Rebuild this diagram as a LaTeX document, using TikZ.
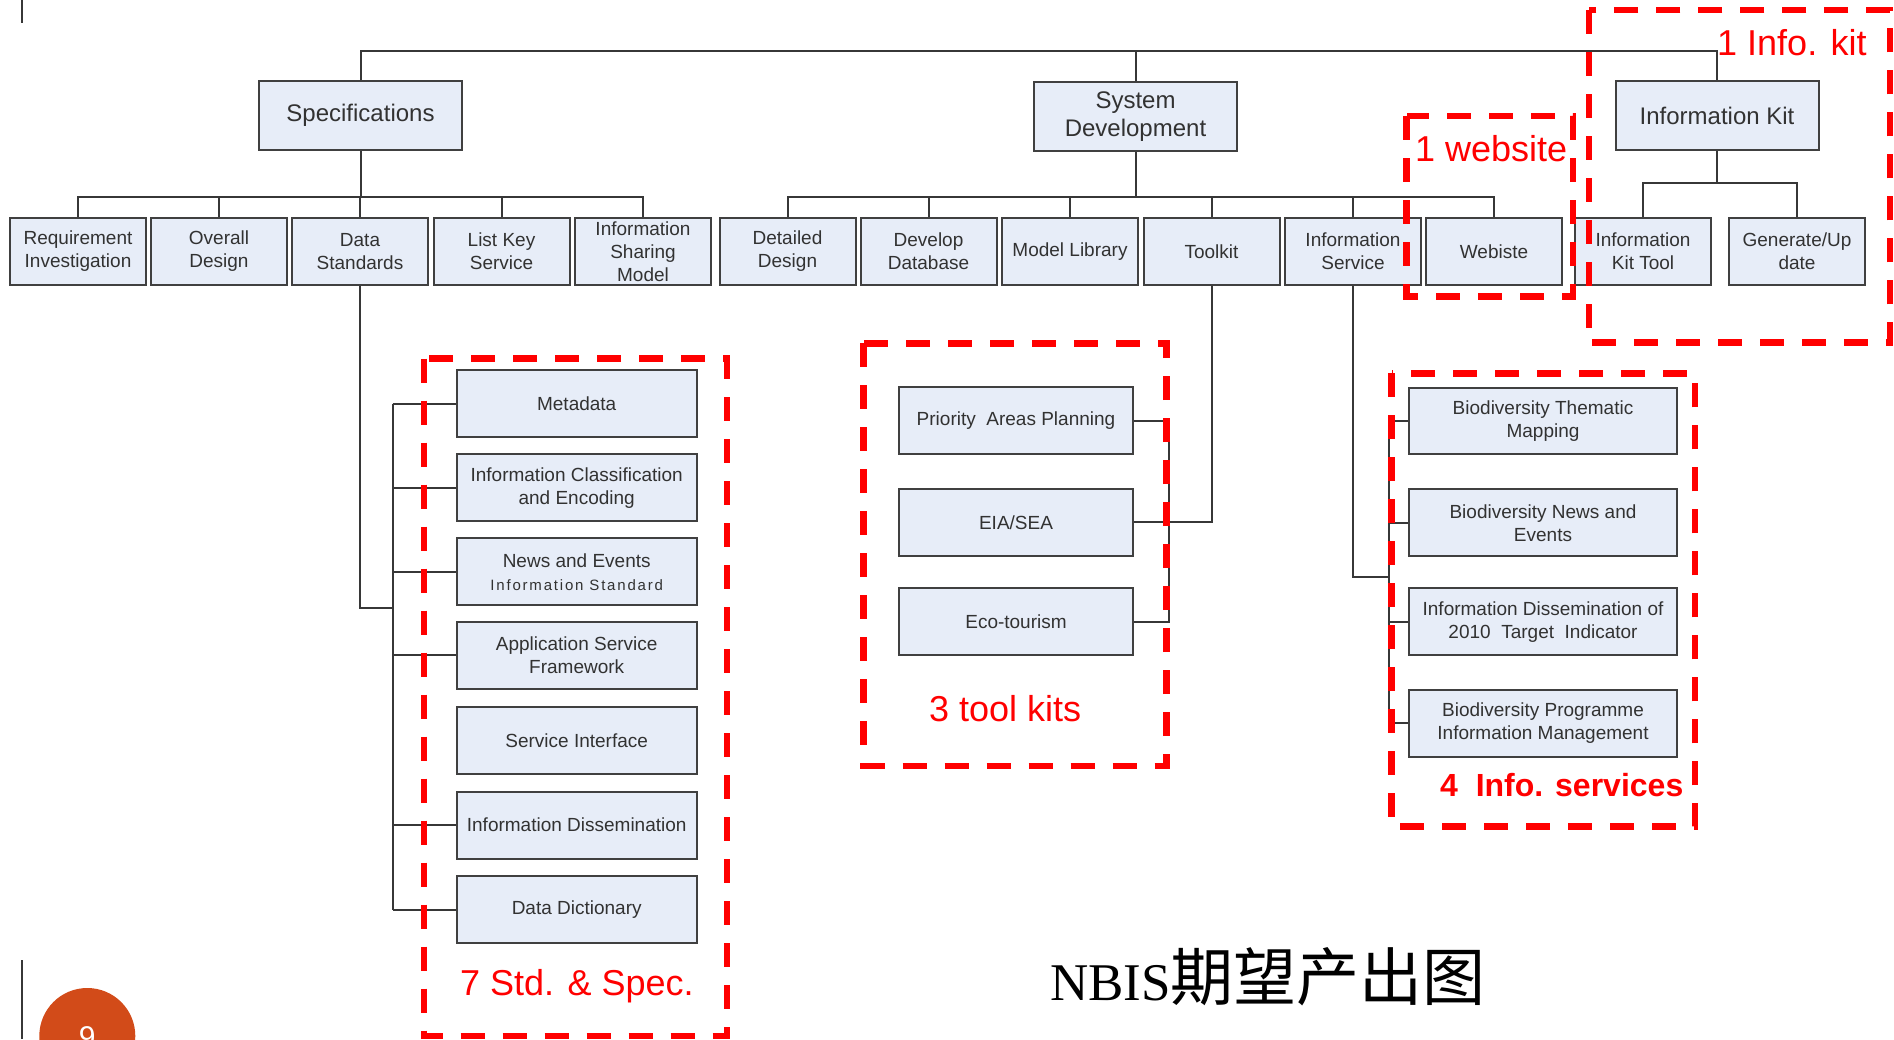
\documentclass[tikz,border=0pt]{standalone}
\usepackage{fontspec}
\setmainfont{Liberation Sans}
\newfontfamily\seriffont{Liberation Serif}
\newfontfamily\cjkfont{Noto Sans CJK SC}
\definecolor{boxfill}{RGB}{231,237,248}
\definecolor{boxline}{RGB}{64,64,64}
\definecolor{txtgray}{RGB}{50,50,50}
\definecolor{conncol}{RGB}{55,55,55}
\definecolor{pagered}{RGB}{210,75,25}
\begin{document}
\begin{tikzpicture}[x=1pt,y=-1pt,
 box/.style={draw=boxline, fill=boxfill, line width=2pt, inner sep=0pt, align=center, text=txtgray, font=\fontsize{19}{23}\selectfont},
 topbox/.style={box, minimum width=203pt, minimum height=69pt, font=\fontsize{24}{28}\selectfont},
 midbox/.style={box, minimum width=136pt, minimum height=67.5pt},
 stdbox/.style={box, minimum width=240pt, minimum height=67pt},
 tkbox/.style={box, minimum width=234pt, minimum height=67pt},
 isbox/.style={box, minimum width=268pt, minimum height=66.5pt},
 conn/.style={draw=conncol, line width=2pt},
 reddash/.style={draw=red, line width=6.5pt, dash pattern=on 24pt off 18pt},
 redlabel/.style={text=red, inner sep=0pt, anchor=base west, font=\fontsize{36}{40}\selectfont},
]
\useasboundingbox (0,0) rectangle (1894,1039);

% level 1
\node[topbox] (spec) at (360.5,115.5) {Specifications};
\node[topbox] (sd) at (1135.5,116.5) {System\\Development};
\node[topbox] (ik) at (1717,115.5) {Information Kit};

% level 2
\node[midbox] (req) at (78,251.3) {Requirement\\Investigation};
\node[midbox] (od) at (219,251.3) {Overall\\Design};
\node[midbox] (ds) at (360,251.3) {Data\\Standards};
\node[midbox] (lks) at (501.5,251.3) {List Key\\Service};
\node[midbox] (ism) at (643,251.3) {Information\\Sharing\\Model};
\node[midbox] (ddsg) at (787.5,251.3) {Detailed\\Design};
\node[midbox] (ddb) at (928.5,251.3) {Develop\\Database};
\node[midbox] (ml) at (1070,251.3) {Model Library};
\node[midbox] (tk) at (1211.5,251.3) {Toolkit};
\node[midbox] (is) at (1353,251.3) {Information\\Service};
\node[midbox] (web) at (1494,251.3) {Webiste};
\node[midbox] (ikt) at (1643,251.3) {Information\\Kit Tool};
\node[midbox] (gu) at (1797,251.3) {Generate/Up\\date};

% standards column
\node[stdbox] (meta) at (576.7,403.8) {Metadata};
\node[stdbox] (icl) at (576.7,487.8) {Information Classification\\and Encoding};
\node[stdbox] (news) at (576.7,571.9) {News and Events\\{\fontsize{15}{17}\selectfont\addfontfeature{LetterSpace=12}Information Standard}};
\node[stdbox] (asf) at (576.7,655) {Application Service\\Framework};
\node[stdbox] (si) at (576.7,740.4) {Service Interface};
\node[stdbox] (idis) at (576.7,825) {Information Dissemination};
\node[stdbox] (dict) at (576.7,909.8) {Data Dictionary};

% toolkit column
\node[tkbox] (pap) at (1016,420.5) {Priority\ \ Areas Planning};
\node[tkbox] (eia) at (1016,522.3) {EIA/SEA};
\node[tkbox] (eco) at (1016,621.5) {Eco-tourism};

% info service column
\node[isbox] (bt) at (1543,421) {Biodiversity Thematic\\Mapping};
\node[isbox] (bn) at (1543,522.7) {Biodiversity News and\\Events};
\node[isbox] (bd) at (1543,621.7) {Information Dissemination of\\2010\ \ Target\ \ Indicator};
\node[isbox] (bp) at (1543,723.3) {Biodiversity Programme\\Information Management};

% connectors
\coordinate (topbus) at (0,51);
\coordinate (bus2) at (0,197);
\coordinate (bus3) at (0,183.3);
\draw[conn] (spec.north) |- (topbus -| ik.north) -- (ik.north);
\draw[conn] (sd.north) -- (sd.north |- topbus);
\foreach \c in {req,od,ds,lks,ism}
  \draw[conn] (spec.south) -- (spec.south |- bus2) -| (\c.north);
\foreach \c in {ddsg,ddb,ml,tk,is,web}
  \draw[conn] (sd.south) -- (sd.south |- bus2) -| (\c.north);
\foreach \c in {ikt,gu}
  \draw[conn] (ik.south) -- (ik.south |- bus3) -| (\c.north);

\coordinate (combA) at (392.7,607.5);
\draw[conn] (ds.south) |- (combA);
\draw[conn] (combA |- meta.west) -- (combA |- dict.west);
\foreach \c in {meta,icl,news,asf,idis,dict}
  \draw[conn] (combA |- \c.west) -- (\c.west);

\coordinate (combB) at (1169.3,0);
\draw[conn] (tk.south) |- (eia.east);
\draw[conn] (pap.east) -| (combB |- eco.east) -- (eco.east);

\coordinate (combC) at (1389.3,576.7);
\draw[conn] (is.south) |- (combC);
\draw[conn] (bt.west) -| (combC |- bp.west) -- (bp.west);
\draw[conn] (combC |- bn.west) -- (bn.west);
\draw[conn] (combC |- bd.west) -- (bd.west);

% red dashed groups
\draw[reddash] (424,358.5) rectangle (727,1036);
\draw[reddash] (863.3,343.3) rectangle (1166.7,766);
\draw[reddash] (1391.7,373.3) rectangle (1695,826.7);
\draw[reddash] (1406.7,116) rectangle (1573,296.7);
\draw[reddash] (1589,10) rectangle (1890,342.7);

\node[redlabel] (lik) at (1717,55) {1 Info. kit};
\node[redlabel] (lweb) at (1415,161.7) {1 website};
\node[redlabel] (lstd) at (460,995) {7 Std. \& Spec.};
\node[redlabel] (ltk) at (929,721.7) {3 tool kits};
\node[redlabel, font=\fontsize{32}{36}\selectfont\bfseries] (lis) at (1440,796) {4\ \ Info. services};

% title
\node[anchor=base west, inner sep=0pt] (title) at (1050,1000) {\seriffont\fontsize{53}{60}\selectfont NBIS\cjkfont\fontsize{63}{68}\selectfont 期望产出图};

% slide decorations
\draw[conncol, line width=1.5pt] (22,0) -- (22,23);
\draw[conncol, line width=1.5pt] (22,960) -- (22,1039);
\fill[pagered] (87.3,1036) circle[radius=48];
\node[text=white, anchor=base, inner sep=0pt, font=\fontsize{30}{34}\selectfont] (pnum) at (87.3,1047) {9};
\end{tikzpicture}
\end{document}
